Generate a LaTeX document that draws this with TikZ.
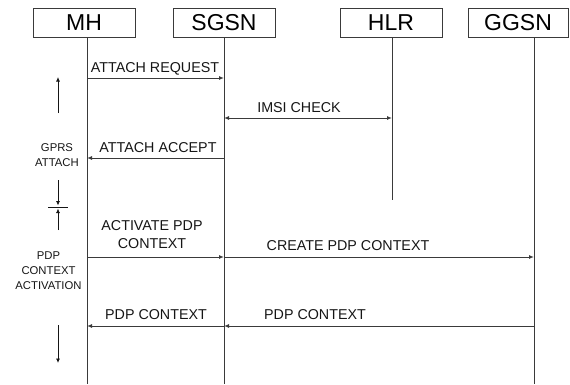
\documentclass[tikz,border=0pt]{standalone}
\usepackage{fontspec}
\setmainfont{Liberation Sans}
\usetikzlibrary{arrows.meta}
\definecolor{ln}{HTML}{3A3A3A}
\definecolor{tx}{HTML}{151515}
\begin{document}
\begin{tikzpicture}[x=1pt,y=-1pt,
  entity/.style={draw=ln,line width=0.9pt,minimum height=29pt,inner sep=0pt,
    font=\fontsize{23}{26}\selectfont,text=black},
  life/.style={draw=ln,line width=1pt},
  msg/.style={draw=ln,line width=1pt,-{Latex[length=5pt,width=4pt]}},
  msgboth/.style={draw=ln,line width=1pt,{Latex[length=5pt,width=4pt]}-{Latex[length=5pt,width=4pt]}},
  mlabel/.style={anchor=base,inner sep=0pt,text=tx,font=\fontsize{14.3}{17.5}\selectfont,align=center},
  slabel/.style={anchor=base,inner sep=0pt,text=tx,font=\fontsize{11.3}{14.8}\selectfont,align=center},
  side/.style={draw=tx,line width=0.8pt,-{Latex[length=4.5pt,width=4pt]}}]
\useasboundingbox (0,0) rectangle (570,384);
% entities
\node[entity,minimum width=102pt] (mh) at (84,22.5) {MH};
\node[entity,minimum width=102pt] (sgsn) at (224,22.5) {SGSN};
\node[entity,minimum width=102pt] (hlr) at (391,22.5) {HLR};
\node[entity,minimum width=100pt] (ggsn) at (518,22.5) {GGSN};
% lifelines
\coordinate (mhT) at (87,37);   \coordinate (mhB) at (87,384);
\coordinate (sgT) at (224,37);  \coordinate (sgB) at (224,384);
\coordinate (hlT) at (392,37);  \coordinate (hlB) at (392,200);
\coordinate (ggT) at (534,37);  \coordinate (ggB) at (534,384);
\draw[life] (mhT) -- (mhB);
\draw[life] (sgT) -- (sgB);
\draw[life] (hlT) -- (hlB);
\draw[life] (ggT) -- (ggB);
% message endpoints
\coordinate (m1a) at (87,78);   \coordinate (m1b) at (224,78);
\coordinate (m2a) at (224,118); \coordinate (m2b) at (392,118);
\coordinate (m3a) at (224,158); \coordinate (m3b) at (87,158);
\coordinate (m4a) at (87,257);  \coordinate (m4b) at (224,257);
\coordinate (m5a) at (224,257); \coordinate (m5b) at (534,257);
\coordinate (m6a) at (534,326); \coordinate (m6b) at (224,326);
\coordinate (m7a) at (224,326); \coordinate (m7b) at (87,326);
\draw[msg] (m1a) -- (m1b);
\draw[msgboth] (m2a) -- (m2b);
\draw[msg] (m3a) -- (m3b);
\draw[msg] (m4a) -- (m4b);
\draw[msg] (m5a) -- (m5b);
\draw[msg] (m6a) -- (m6b);
\draw[msg] (m7a) -- (m7b);
% message labels
\node[mlabel] (l1) at (155,72) {ATTACH REQUEST};
\node[mlabel] (l2) at (299,112.5) {IMSI CHECK};
\node[mlabel] (l3) at (158,152) {ATTACH ACCEPT};
\node[mlabel] (l4) at (152,248) {ACTIVATE PDP\\CONTEXT};
\node[mlabel] (l5) at (348,250.5) {CREATE PDP CONTEXT};
\node[mlabel] (l6) at (156,319.5) {PDP CONTEXT};
\node[mlabel] (l7) at (315,319.5) {PDP CONTEXT};
% side annotations
\node[slabel] (g1) at (57,166.5) {GPRS\\ATTACH};
\node[slabel] (g2) at (48.5,289.5) {PDP\\CONTEXT\\ACTIVATION};
\coordinate (u1) at (58,113); \coordinate (u2) at (58,77);
\draw[side] (u1) -- (u2);
\coordinate (b1) at (58,180); \coordinate (b2) at (58,205.5);
\coordinate (b3) at (58,230); \coordinate (b4) at (58,208.5);
\draw[side] (b1) -- (b2);
\draw[side] (b3) -- (b4);
\coordinate (t1) at (48,207); \coordinate (t2) at (68,207);
\draw[draw=tx,line width=0.8pt] (t1) -- (t2);
\coordinate (d1) at (58,325); \coordinate (d2) at (58,363);
\draw[side] (d1) -- (d2);
\end{tikzpicture}
\end{document}
